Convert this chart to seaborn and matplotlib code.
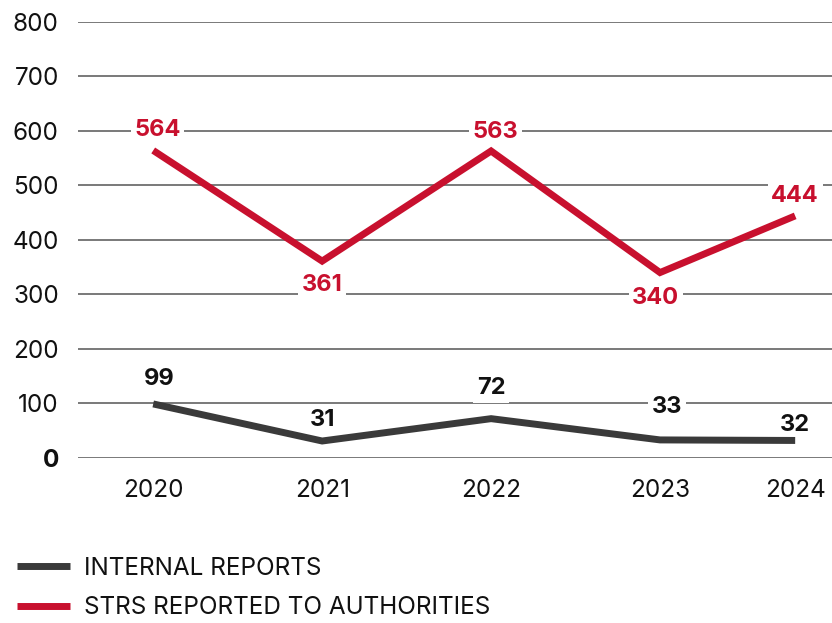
import matplotlib
matplotlib.use("Agg")
import matplotlib.pyplot as plt
from matplotlib.lines import Line2D
import seaborn as sns
import pandas as pd

# Data
years = ["2020", "2021", "2022", "2023", "2024"]
internal_reports = [99, 31, 72, 33, 32]
strs_reported = [564, 361, 563, 340, 444]
series_names = ["INTERNAL REPORTS", "STRS REPORTED TO AUTHORITIES"]
y_ticks = [0, 100, 200, 300, 400, 500, 600, 700, 800]

# Layout: horizontal position of each year on the axis
x_positions = [0, 1, 2, 3, 3.8]

RED = "#C8102E"
DARK = "#3A3A3A"

sns.set_theme(style="white")
plt.rcParams["font.family"] = ["Inter", "DejaVu Sans"]

df = pd.DataFrame({
    "pos": x_positions * 2,
    "value": internal_reports + strs_reported,
    "series": [series_names[0]] * len(years) + [series_names[1]] * len(years),
})

fig = plt.figure(figsize=(8.32, 6.23), dpi=100)
ax = fig.add_axes([0.094, 0.265, 0.906, 0.7])

sns.lineplot(data=df, x="pos", y="value", hue="series",
             palette={series_names[0]: DARK, series_names[1]: RED},
             linewidth=5, legend=False, ax=ax, zorder=3,
             solid_joinstyle="miter", solid_capstyle="butt")
for ln in ax.lines:
    ln.set_clip_on(False)

ax.set_xlim(-0.444, 4.018)
ax.set_ylim(0, 800)
ax.set_yticks(y_ticks)
ax.set_yticklabels([str(t) for t in y_ticks])
ax.set_xticks(x_positions)
ax.set_xticklabels(years)
ax.tick_params(axis="y", length=0, pad=14, labelsize=17.5, labelcolor="#111111")
ax.tick_params(axis="x", length=0, pad=15, labelsize=17.5, labelcolor="#111111")
ax.get_yticklabels()[0].set_fontweight("bold")
ax.set_xlabel("")
ax.set_ylabel("")
for s in ax.spines.values():
    s.set_visible(False)
ax.grid(axis="y", color="#555555", linewidth=1.1)
ax.grid(axis="x", visible=False)
ax.set_axisbelow(True)

# Value labels (offsets in points, positive = above); drawn over the
# gridlines but under the series lines
strs_offsets = [15, -17, 14, -18, 14.5]
internal_offsets = [18, 15, 22, 24, 11]
label_dx = [3, 0, 3, -3, 0]
int_dx = [4, 0, 0, 5, 0]

bbox = dict(boxstyle="square,pad=0.15", facecolor="white", edgecolor="none")
for x, v, dy, dx in zip(x_positions, strs_reported, strs_offsets, label_dx):
    ax.annotate(str(v), (x, v), xytext=(dx, dy), textcoords="offset points",
                ha="center", va="center", fontsize=17, fontweight="bold",
                color=RED, bbox=bbox, zorder=2)
for x, v, dy, dx in zip(x_positions, internal_reports, internal_offsets, int_dx):
    ax.annotate(str(v), (x, v), xytext=(dx, dy), textcoords="offset points",
                ha="center", va="center", fontsize=17, fontweight="bold",
                color="#111111", bbox=bbox, zorder=2)

handles = [Line2D([0], [0], color=DARK, linewidth=5, solid_capstyle="butt"),
           Line2D([0], [0], color=RED, linewidth=5, solid_capstyle="butt")]
fig.legend(handles, series_names, loc="lower left", bbox_to_anchor=(-0.006, -0.029),
           frameon=False, fontsize=17.5, handlelength=2.2, handletextpad=0.57,
           labelspacing=0.685, labelcolor="#111111")

fig.savefig("out.png", dpi=100)
